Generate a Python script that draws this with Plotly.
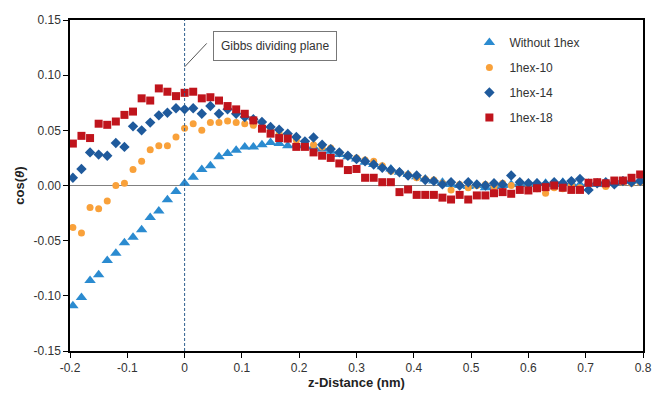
import plotly.graph_objects as go

# z-distance (nm)
z = [-0.195, -0.18, -0.165, -0.15, -0.135, -0.12, -0.105, -0.09, -0.075, -0.06,
     -0.045, -0.03, -0.015, 0.0, 0.015, 0.03, 0.045, 0.06, 0.075, 0.09,
     0.105, 0.12, 0.135, 0.15, 0.165, 0.18, 0.195, 0.21, 0.225, 0.24,
     0.255, 0.27, 0.285, 0.3, 0.315, 0.33, 0.345, 0.36, 0.375, 0.39,
     0.405, 0.42, 0.435, 0.45, 0.465, 0.48, 0.495, 0.51, 0.525, 0.54,
     0.555, 0.57, 0.585, 0.6, 0.615, 0.63, 0.645, 0.66, 0.675, 0.69,
     0.705, 0.72, 0.735, 0.75, 0.765, 0.78, 0.795]

without_1hex = [-0.109, -0.1015, -0.086, -0.081, -0.068, -0.0615, -0.052, -0.047, -0.040, -0.029,
                -0.023, -0.013, -0.0055, 0.002, 0.0075, 0.0145, 0.018, 0.026, 0.029, 0.032,
                0.035, 0.035, 0.037, 0.039, 0.038, 0.036, 0.037, 0.036, 0.035, 0.033,
                0.031, 0.028, 0.026, 0.024, 0.021, 0.019, 0.017, 0.015, 0.012, 0.010,
                0.008, 0.006, 0.004, 0.003, 0.001, 0.000, -0.001, 0.000, -0.002, -0.001,
                0.000, 0.001, 0.002, 0.001, 0.002, 0.002, 0.001, 0.003, 0.002, 0.001,
                0.002, 0.001, 0.002, 0.003, 0.004, 0.004, 0.005]

hex10 = [-0.038, -0.043, -0.020, -0.021, -0.014, 0.000, 0.002, 0.0145, 0.022, 0.0325,
         0.036, 0.036, 0.044, 0.052, 0.056, 0.050, 0.057, 0.057, 0.0585, 0.057,
         0.056, 0.0545, 0.053, 0.050, 0.047, 0.0445, 0.041, 0.039, 0.037, 0.035,
         0.034, 0.030, 0.027, 0.025, 0.023, 0.022, 0.018, 0.013, 0.012, 0.010,
         0.007, 0.006, 0.005, 0.002, -0.004, 0.001, -0.002, 0.000, 0.001, -0.001,
         0.002, 0.000, 0.003, 0.001, -0.003, -0.007, -0.002, -0.003, 0.000, -0.002,
         0.001, 0.002, -0.001, 0.002, 0.003, 0.002, 0.003]

hex14 = [0.007, 0.015, 0.030, 0.028, 0.027, 0.0385, 0.035, 0.0536, 0.050, 0.057,
         0.0636, 0.066, 0.070, 0.069, 0.070, 0.065, 0.072, 0.065, 0.069, 0.065,
         0.062, 0.060, 0.0575, 0.053, 0.0506, 0.047, 0.044, 0.040, 0.0435, 0.037,
         0.033, 0.030, 0.027, 0.024, 0.022, 0.019, 0.016, 0.014, 0.012, 0.009,
         0.009, 0.005, 0.004, 0.001, 0.003, 0.000, 0.003, 0.001, 0.000, 0.002,
         0.001, 0.009, 0.003, 0.002, 0.002, 0.001, 0.003, 0.002, 0.004, 0.006,
         -0.004, 0.002, 0.003, 0.001, 0.004, 0.003, 0.004]

hex18 = [0.038, 0.045, 0.043, 0.056, 0.055, 0.058, 0.064, 0.067, 0.079, 0.077,
         0.088, 0.085, 0.081, 0.084, 0.085, 0.079, 0.080, 0.077, 0.072, 0.069,
         0.065, 0.059, 0.0515, 0.047, 0.043, 0.0425, 0.035, 0.035, 0.030, 0.027,
         0.025, 0.020, 0.014, 0.015, 0.007, 0.007, 0.003, 0.003, -0.006, -0.0036,
         -0.0085, -0.0085, -0.0085, -0.011, -0.0127, -0.0085, -0.0127, -0.009, -0.009, -0.007,
         -0.006, -0.0075, -0.004, -0.0045, -0.0025, -0.0015, 0.0, -0.002, -0.004, -0.004,
         0.0025, 0.003, 0.002, 0.0045, 0.0045, 0.007, 0.010]

x_ticks = [-0.2, -0.1, 0, 0.1, 0.2, 0.3, 0.4, 0.5, 0.6, 0.7, 0.8]
x_tick_text = ["-0.2", "-0.1", "0", "0.1", "0.2", "0.3", "0.4", "0.5", "0.6", "0.7", "0.8"]
y_ticks = [-0.15, -0.10, -0.05, 0.00, 0.05, 0.10, 0.15]
y_tick_text = ["-0.15", "-0.10", "-0.05", "0.00", "0.05", "0.10", "0.15"]

series = [
    ("Without 1hex", without_1hex, "triangle-up", 10, "#2b8bd0"),
    ("1hex-10", hex10, "circle", 7, "#f9a13a"),
    ("1hex-14", hex14, "diamond", 8, "#1f5a9c"),
    ("1hex-18", hex18, "square", 8, "#c0141c"),
]

FONT = "Liberation Sans, Arial, sans-serif"
fig = go.Figure()
for i, (name, vals, sym, size, col) in enumerate(series):
    fig.add_trace(go.Scatter(
        x=z, y=vals, mode="markers", name=name, legendgroup=name,
        marker=dict(symbol=sym, size=size, color=col, line=dict(width=0)),
    ))

# Gibbs dividing plane (dashed vertical at z=0)
fig.add_shape(type="line", xref="x", yref="y", x0=0, x1=0, y0=-0.15, y1=0.15,
              line=dict(color="#2f5f8f", width=1, dash="3px,2px"), layer="above")
# leader line
fig.add_shape(type="line", xref="x", yref="y", x0=0, y0=0.1075, x1=0.0386, y1=0.1288,
              line=dict(color="#555555", width=1))
fig.add_annotation(x=0.1586, y=0.1264, xref="x", yref="y", text="Gibbs dividing plane",
                   showarrow=False, font=dict(family=FONT, size=12, color="#333333"),
                   bordercolor="#777777", borderwidth=1, borderpad=7, bgcolor="white")

fig.update_layout(
    width=654, height=394,
    margin=dict(l=70, r=11, t=20, b=43),
    paper_bgcolor="white", plot_bgcolor="white",
    font=dict(family=FONT, size=12, color="#333333"),
    showlegend=True,
    legend=dict(x=0.697, y=0.976, xanchor="left", yanchor="top",
                bgcolor="rgba(0,0,0,0)", font=dict(family=FONT, size=12, color="#333333"),
                traceorder="grouped", tracegroupgap=6),
    xaxis=dict(range=[-0.2, 0.8], tickvals=x_ticks, ticktext=x_tick_text, automargin=False,
               showgrid=False, zeroline=False, showline=True, linecolor="black", linewidth=1.5,
               mirror=True, ticks="outside", ticklen=5, tickcolor="black",
               tickfont=dict(family=FONT, size=12, color="#333333"),
               title=dict(text="<b>z-Distance (nm)</b>", font=dict(family=FONT, size=13, color="#222222"),
                          standoff=4)),
    yaxis=dict(range=[-0.15, 0.15], tickvals=y_ticks, ticktext=y_tick_text, automargin=False,
               showgrid=False, zeroline=True, zerolinecolor="#808080", zerolinewidth=1,
               showline=True, linecolor="black", linewidth=1.5,
               mirror=True, ticks="outside", ticklen=5, tickcolor="black",
               tickfont=dict(family=FONT, size=12, color="#333333"),
               title=dict(text="<b>cos(<i>θ</i>)</b>", font=dict(family=FONT, size=13, color="#222222"),
                          standoff=6)),
)

fig.write_html("out.html")
